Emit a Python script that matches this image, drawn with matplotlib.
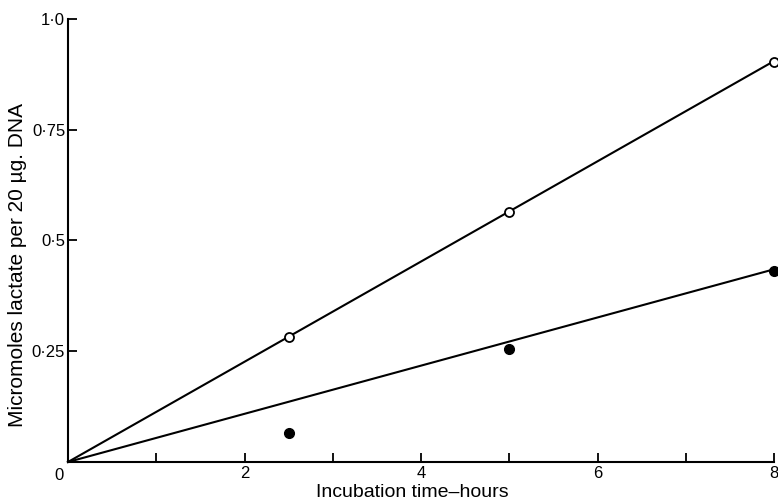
import matplotlib
matplotlib.use("Agg")
import matplotlib.pyplot as plt

plt.rcParams['font.family'] = ['Liberation Sans', 'DejaVu Sans']

# Data
hours = [2.5, 5, 8]
open_vals = [0.283, 0.564, 0.903]
filled_vals = [0.066, 0.256, 0.432]
line_x = [0, 8]
open_line = [0, 0.905]
filled_line = [0, 0.435]
xtick_major = [2, 4, 6, 8]
xtick_major_labels = ['2', '4', '6', '8']
xtick_minor = [1, 3, 5, 7]
ytick_vals = [0.25, 0.5, 0.75, 1.0]
ytick_labels = ['0·25', '0·5', '0·75', '1·0']

fig = plt.figure(figsize=(7.78, 5.01), dpi=100)
ax = fig.add_axes([68/778, 39/501, (774-68)/778, (462-19)/501])

ax.plot(line_x, open_line, color='black', lw=1.5, clip_on=False, zorder=2)
ax.plot(line_x, filled_line, color='black', lw=1.5, clip_on=False, zorder=2)
ax.plot(hours, open_vals, 'o', mfc='white', mec='black', mew=1.3, ms=6.5,
        clip_on=False, zorder=3)
ax.plot(hours, filled_vals, 'o', mfc='black', mec='black', ms=7,
        clip_on=False, zorder=3)

ax.set_xlim(0, 8)
ax.set_ylim(0, 1.0)
for s in ['top', 'right']:
    ax.spines[s].set_visible(False)
for s in ['left', 'bottom']:
    ax.spines[s].set_linewidth(1.5)

ax.set_xticks(xtick_major)
ax.set_xticklabels(xtick_major_labels)
ax.set_xticks(xtick_minor, minor=True)
ax.set_yticks(ytick_vals)
ax.set_yticklabels(ytick_labels)
ax.tick_params(axis='both', direction='in', length=6.5, width=1.3,
               labelsize=12, pad=3)
ax.tick_params(axis='x', which='minor', direction='in', length=6.5, width=1.3)
ax.tick_params(axis='y', pad=2)

ax.text(-0.006, -0.0135, '0', transform=ax.transAxes, ha='right', va='top',
        fontsize=12)

ax.set_xlabel('Incubation time\u2013hours', fontsize=14)
ax.xaxis.set_label_coords(0.487, -0.05)
ax.set_ylabel('Micromoles lactate per 20 µg. DNA', fontsize=15)
ax.yaxis.set_label_coords(-0.058, 0.445)

fig.savefig('out.png', dpi=100)
